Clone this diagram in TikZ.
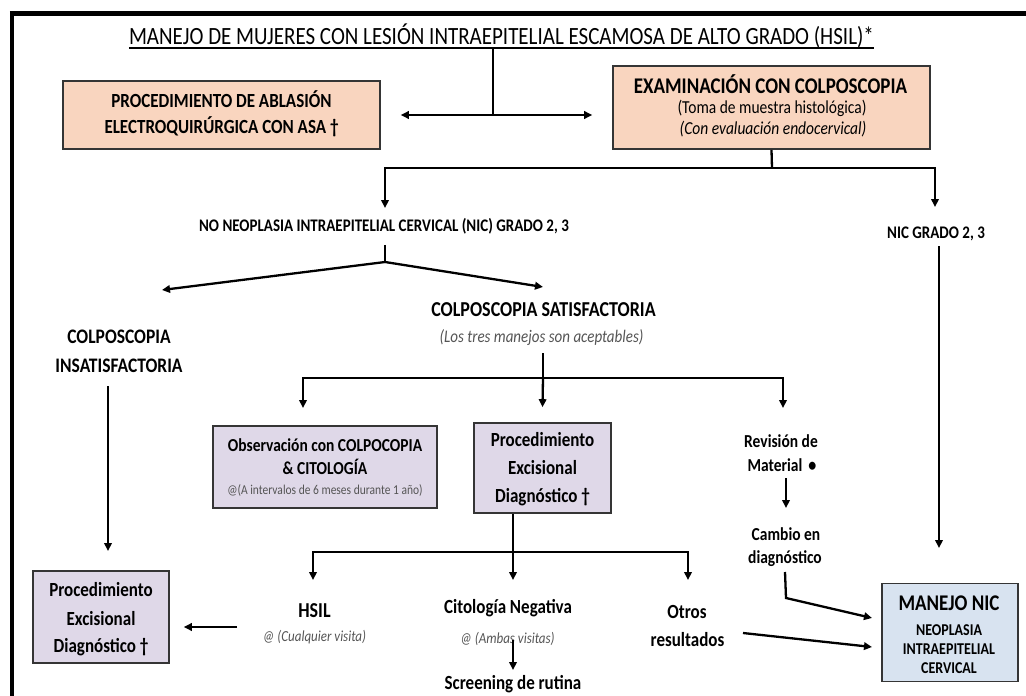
\documentclass[tikz,border=0pt]{standalone}
\usepackage{fontspec}
\setmainfont{Carlito}
\usetikzlibrary{arrows.meta}
\definecolor{peachfill}{HTML}{F9D5BF}
\definecolor{lavfill}{HTML}{DFD8E8}
\definecolor{bluefill}{HTML}{D8E3F0}
\definecolor{boxline}{HTML}{353535}
\definecolor{notegray}{HTML}{555555}
\newcommand{\myfs}[1]{\fontsize{#1}{#1}\selectfont}
\newcommand{\vs}[1]{\scalebox{1}[1.18]{#1}}
\begin{document}
\begin{tikzpicture}[x=1pt,y=-1pt,
  conn/.style={line width=2.3pt},
  arr/.style={conn,-{Triangle[length=8pt,width=7.5pt]}},
  box/.style={draw=boxline,line width=1.6pt,inner sep=0pt},
  txt/.style={inner sep=0pt,anchor=base}]
\useasboundingbox (0,0) rectangle (1026,696);
\fill[white] (0,0) rectangle (1026,696);
% frame
\draw[line width=4.5pt] (9.75,13.5) -- (1026,13.5);
\draw[line width=4.5pt] (12,11.25) -- (12,696);
% boxes
\node[box,fill=peachfill,minimum width=317pt,minimum height=68pt] (asa) at (221.5,115) {};
\node[box,fill=peachfill,minimum width=317pt,minimum height=83pt] (exam) at (771.5,107.5) {};
\node[box,fill=lavfill,minimum width=224pt,minimum height=82pt] (obs) at (325,467) {};
\node[box,fill=lavfill,minimum width=137pt,minimum height=90pt] (ped) at (542.5,468) {};
\node[box,fill=lavfill,minimum width=136pt,minimum height=92pt] (ped2) at (101,617) {};
\node[box,fill=bluefill,minimum width=136pt,minimum height=98pt] (nic) at (950,632.5) {};
% texts
\node[txt,font=\myfs{21}] (title) at (501.5,45) {\vs{MANEJO DE MUJERES CON LESIÓN INTRAEPITELIAL ESCAMOSA DE ALTO GRADO (HSIL)*}};
\draw[line width=1.4pt] ([yshift=-3pt]title.base west) -- ([yshift=-3pt]title.base east);
\node[txt,font=\myfs{17}\bfseries] (asa1) at (221.5,107) {\vs{PROCEDIMIENTO DE ABLASIÓN}};
\node[txt,font=\myfs{17}\bfseries] (asa2) at (221.5,133) {\vs{ELECTROQUIRÚRGICA CON ASA †}};
\node[txt,font=\myfs{19}\bfseries] (ex1) at (770.5,93) {\vs{EXAMINACIÓN CON COLPOSCOPIA}};
\node[txt,font=\myfs{15.5}] (ex2) at (772,113) {\vs{(Toma de muestra histológica)}};
\node[txt,font=\myfs{15.5}\itshape] (ex3) at (773,134) {\vs{(Con evaluación endocervical)}};
\node[txt,font=\myfs{15}\bfseries] (noneo) at (384,231) {\vs{NO NEOPLASIA INTRAEPITELIAL CERVICAL (NIC) GRADO 2, 3}};
\node[txt,font=\myfs{15}\bfseries] (nic23) at (936,238) {\vs{NIC GRADO 2, 3}};
\node[txt,font=\myfs{18}\bfseries] (satis) at (543.5,316) {\vs{COLPOSCOPIA SATISFACTORIA}};
\node[txt,font=\myfs{15}\itshape,text=notegray] (satisn) at (541.5,342) {\vs{(Los tres manejos son aceptables)}};
\node[txt,font=\myfs{17.5}\bfseries] (insat1) at (119,343) {\vs{COLPOSCOPIA}};
\node[txt,font=\myfs{17.5}\bfseries] (insat2) at (119,372) {\vs{INSATISFACTORIA}};
\node[txt,font=\myfs{15.5}\bfseries] (obs1) at (325,451) {\vs{Observación con COLPOCOPIA}};
\node[txt,font=\myfs{15.5}\bfseries] (obs2) at (325,474) {\vs{\& CITOLOGÍA}};
\node[txt,font=\myfs{11.5},text=notegray] (obs3) at (325,494) {\vs{@(A intervalos de 6 meses durante 1 año)}};
\node[txt,font=\myfs{17}\bfseries] (pedA) at (542.5,446) {\vs{Procedimiento}};
\node[txt,font=\myfs{17}\bfseries] (pedB) at (542.5,474) {\vs{Excisional}};
\node[txt,font=\myfs{17}\bfseries] (pedC) at (542.5,502) {\vs{Diagnóstico †}};
\node[txt,font=\myfs{17}\bfseries] (ped2A) at (101,596) {\vs{Procedimiento}};
\node[txt,font=\myfs{17}\bfseries] (ped2B) at (101,625) {\vs{Excisional}};
\node[txt,font=\myfs{17}\bfseries] (ped2C) at (101,652) {\vs{Diagnóstico †}};
\node[txt,font=\myfs{15.5}\bfseries] (rev1) at (781,447) {\vs{Revisión de}};
\node[txt,font=\myfs{15.5}\bfseries] (rev2) at (782,471) {\vs{Material \,{\myfs{16}\textbullet}}};
\node[txt,font=\myfs{15.5}\bfseries] (cam1) at (786,540) {\vs{Cambio en}};
\node[txt,font=\myfs{15.5}\bfseries] (cam2) at (785,563) {\vs{diagnóstico}};
\node[txt,font=\myfs{18}\bfseries] (hsil) at (314.5,617) {\vs{HSIL}};
\node[txt,font=\myfs{13}\itshape,text=notegray] (hsiln) at (314.5,641) {\vs{@ (Cualquier visita)}};
\node[txt,font=\myfs{17}\bfseries] (cit) at (508,613) {\vs{Citología Negativa}};
\node[txt,font=\myfs{13}\itshape,text=notegray] (citn) at (507.5,643) {\vs{@ (Ambas visitas)}};
\node[txt,font=\myfs{17}\bfseries] (scr) at (513,689) {\vs{Screening de rutina}};
\node[txt,font=\myfs{17}\bfseries] (otr1) at (687,618) {\vs{Otros}};
\node[txt,font=\myfs{17}\bfseries] (otr2) at (687.5,646) {\vs{resultados}};
\node[txt,font=\myfs{19}\bfseries] (nic1) at (949,610) {\vs{MANEJO NIC}};
\node[txt,font=\myfs{14}\bfseries] (nic2) at (949,635) {\vs{NEOPLASIA}};
\node[txt,font=\myfs{14}\bfseries] (nic3) at (949,654) {\vs{INTRAEPITELIAL}};
\node[txt,font=\myfs{14}\bfseries] (nic4) at (949,673) {\vs{CERVICAL}};
% coordinates
\coordinate (j1) at (493,115);
\coordinate (j2) at (772,168);
\coordinate (tnoneo) at (385,208);
\coordinate (tnic23) at (935,207);
\coordinate (j3) at (385,262);
\coordinate (tinsat) at (162,290);
\coordinate (tsatis) at (543,287);
\coordinate (sinsat) at (108,386);
\coordinate (tped2) at (108,551);
\coordinate (j4) at (543,378);
\coordinate (tobs) at (303,408);
\coordinate (trev) at (783,408);
\coordinate (srev) at (786,478);
\coordinate (tcam) at (786,508);
\coordinate (scam) at (785,572);
\coordinate (jcam) at (786,598);
\coordinate (tnicA) at (872,618);
\coordinate (sotr) at (743,633);
\coordinate (tnicB) at (872,647);
\coordinate (snic) at (939,246);
\coordinate (tnicC) at (939,548);
\coordinate (j5) at (513,552);
\coordinate (thsil) at (313,580);
\coordinate (tcit) at (513,580);
\coordinate (totr) at (688,580);
\coordinate (shsil) at (237,627);
\coordinate (scit) at (513,640);
\coordinate (tscr) at (513,670);
% connectors
\draw[conn] (title.south -| j1) -- (j1);
\draw[arr] (j1) -- ([xshift=20pt]asa.east);
\draw[arr] (j1) -- ([xshift=-20pt]exam.west |- j1);
\draw[conn] (exam.south) -- (j2);
\draw[arr] (j2) -| (tnoneo);
\draw[arr] (j2) -| (tnic23);
\draw[conn] ([yshift=-11pt]noneo.south -| j3) -- (j3);
\draw[arr] (j3) -- (tinsat);
\draw[arr] (j3) -- (tsatis);
\draw[arr] (sinsat) -- (tped2);
\draw[conn] ([yshift=-8pt]satisn.south -| j4) -- (j4);
\draw[arr] (j4) -- ([yshift=15pt]ped.north);
\draw[arr] (j4) -| (tobs);
\draw[arr] (j4) -| (trev);
\draw[arr] (srev) -- (tcam);
\draw[arr] (scam) -- (jcam) -- (tnicA);
\draw[arr] (sotr) -- (tnicB);
\draw[arr] (snic) -- (tnicC);
\draw[conn] (ped.south -| j5) -- (j5);
\draw[arr] (j5) -| (thsil);
\draw[arr] (j5) -- (tcit);
\draw[arr] (j5) -| (totr);
\draw[arr] (shsil) -- ([xshift=14pt]ped2.east |- shsil);
\draw[arr] (scit) -- (tscr);
\end{tikzpicture}
\end{document}
